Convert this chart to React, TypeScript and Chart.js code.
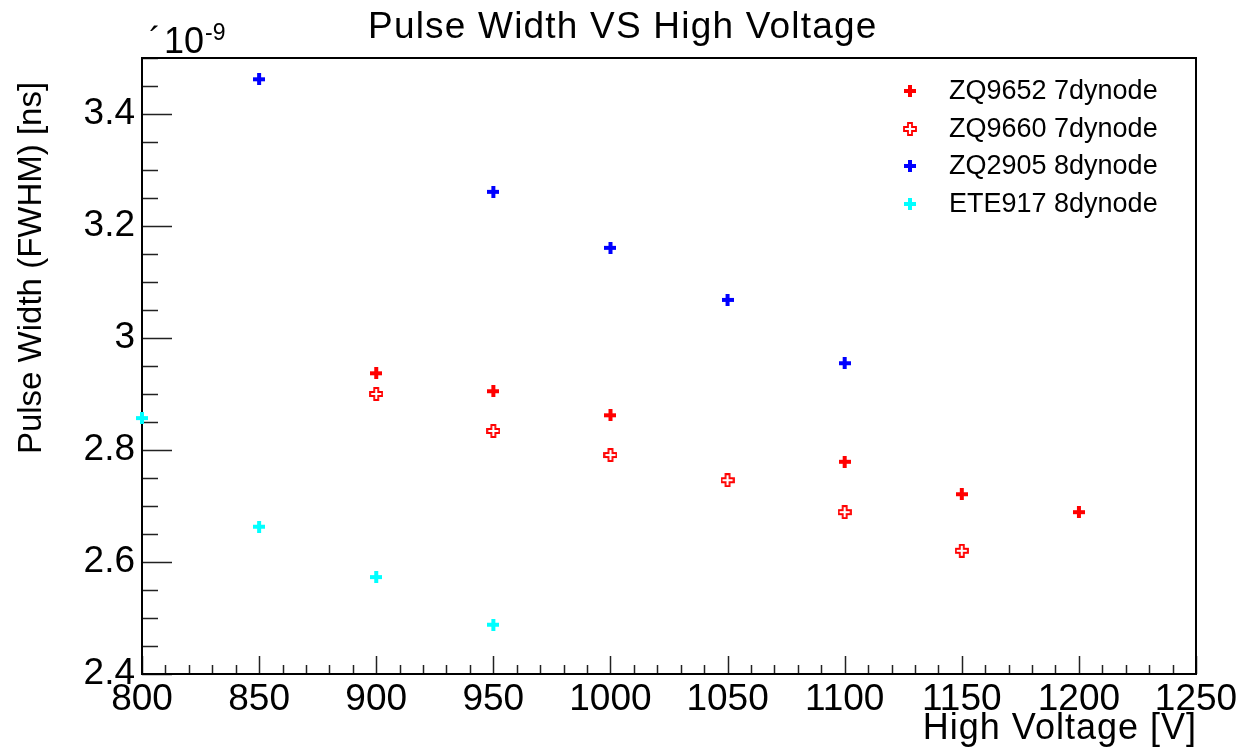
import React, { useEffect, useRef } from "react";
import { Chart, registerables } from "chart.js";

Chart.register(...registerables);

// ---- data ----
const seriesNames = ["ZQ9652 7dynode", "ZQ9660 7dynode", "ZQ2905 8dynode", "ETE917 8dynode"];
const seriesColors = ["#ff0000", "#ff0000", "#0000ff", "#00ffff"];
const seriesOpen = [false, true, false, false];

const zq9652X = [900, 950, 1000, 1100, 1150, 1200];
const zq9652Y = [2.937, 2.905, 2.862, 2.779, 2.721, 2.689];
const zq9660X = [900, 950, 1000, 1050, 1100, 1150];
const zq9660Y = [2.9, 2.834, 2.791, 2.746, 2.689, 2.62];
const zq2905X = [850, 950, 1000, 1050, 1100];
const zq2905Y = [3.462, 3.261, 3.161, 3.068, 2.955];
const ete917X = [800, 850, 900, 950];
const ete917Y = [2.857, 2.663, 2.573, 2.488];

const seriesX = [zq9652X, zq9660X, zq2905X, ete917X];
const seriesY = [zq9652Y, zq9660Y, zq2905Y, ete917Y];

const xTicks = [800, 850, 900, 950, 1000, 1050, 1100, 1150, 1200, 1250];
const yTicks = [2.4, 2.6, 2.8, 3.0, 3.2, 3.4];
const xMin = 800, xMax = 1250, yMin = 2.4, yMax = 3.5;

const titleText = "Pulse Width VS High Voltage";
const xTitle = "High Voltage [V]";
const yTitle = "Pulse Width (FWHM) [ns]";

const FONT = "'Liberation Sans', Arial, sans-serif";

function makeMarker(color: string, open: boolean): HTMLCanvasElement {
  const c = document.createElement("canvas");
  if (!open) {
    c.width = 12;
    c.height = 12;
    const g = c.getContext("2d")!;
    g.fillStyle = color;
    g.fillRect(0, 4, 12, 4);
    g.fillRect(4, 0, 4, 12);
  } else {
    c.width = 14;
    c.height = 14;
    const g = c.getContext("2d")!;
    const a = 1, b = 5, d = 9, e = 13;
    g.beginPath();
    g.moveTo(b, a); g.lineTo(d, a); g.lineTo(d, b); g.lineTo(e, b); g.lineTo(e, d);
    g.lineTo(d, d); g.lineTo(d, e); g.lineTo(b, e); g.lineTo(b, d); g.lineTo(a, d);
    g.lineTo(a, b); g.lineTo(b, b); g.closePath();
    g.fillStyle = "#ffffff";
    g.fill();
    g.strokeStyle = color;
    g.lineWidth = 1.8;
    g.stroke();
  }
  return c;
}

export default function App() {
  const ref = useRef<HTMLCanvasElement | null>(null);

  useEffect(() => {
    document.body.style.margin = "0";
    const canvas = ref.current!;
    const markers = seriesNames.map((_, i) => makeMarker(seriesColors[i], seriesOpen[i]));

    const framePlugin = {
      id: "rootFrame",
      beforeDatasetsDraw(chart: any) {
        const ctx = chart.ctx as CanvasRenderingContext2D;
        const xs = chart.scales.x;
        const ys = chart.scales.y;
        const { left, right, top, bottom } = chart.chartArea;
        ctx.save();
        ctx.strokeStyle = "#222";
        ctx.lineWidth = 1.5;
        ctx.beginPath();
        for (let i = 0; i <= 45; i++) {
          const v = xMin + i * 10;
          const px = Math.round(xs.getPixelForValue(v)) + 0.5;
          const len = i % 5 === 0 ? 18 : 9;
          ctx.moveTo(px, bottom);
          ctx.lineTo(px, bottom - len);
        }
        for (let i = 0; i <= 22; i++) {
          const v = yMin + i * 0.05;
          const py = Math.round(ys.getPixelForValue(v)) + 0.5;
          const len = i % 4 === 0 ? 30 : 16;
          ctx.moveTo(left, py);
          ctx.lineTo(left + len, py);
        }
        ctx.stroke();
        ctx.strokeStyle = "#000";
        ctx.lineWidth = 2;
        ctx.strokeRect(left, top, right - left, bottom - top);
        ctx.restore();
      },
      afterDraw(chart: any) {
        const ctx = chart.ctx as CanvasRenderingContext2D;
        const { left, right } = chart.chartArea;
        ctx.save();
        ctx.fillStyle = "#000";
        // title
        (ctx as any).letterSpacing = "1.2px";
        ctx.font = `37px ${FONT}`;
        ctx.textAlign = "left";
        ctx.textBaseline = "alphabetic";
        ctx.fillText(titleText, 368, 38);
        // x title
        (ctx as any).letterSpacing = "1px";
        ctx.font = `36px ${FONT}`;
        ctx.textAlign = "right";
        ctx.fillText(xTitle, right + 1, 739);
        (ctx as any).letterSpacing = "0px";
        // y title
        ctx.save();
        ctx.translate(41, 268);
        ctx.rotate(-Math.PI / 2);
        ctx.font = `33px ${FONT}`;
        ctx.textAlign = "center";
        ctx.fillText(yTitle, 0, 0);
        ctx.restore();
        // exponent
        ctx.textAlign = "left";
        ctx.font = `36px ${FONT}`;
        ctx.fillText("\u00B4", left + 7, 53);
        ctx.fillText("10", 164, 53);
        ctx.font = `23px ${FONT}`;
        ctx.fillText("-9", 205, 40);
        // legend
        ctx.font = `27px ${FONT}`;
        ctx.textBaseline = "middle";
        seriesNames.forEach((name, i) => {
          const y = 91 + i * 37.5;
          const m = markers[i];
          ctx.drawImage(m, Math.round(910 - m.width / 2), Math.round(y - m.height / 2));
          ctx.fillText(name, 949, y + 1);
        });
        ctx.restore();
      },
    };

    const chart = new Chart(canvas, {
      type: "scatter",
      data: {
        datasets: seriesNames.map((name, i) => ({
          label: name,
          data: seriesX[i].map((x, j) => ({ x, y: seriesY[i][j] })),
          pointStyle: markers[i] as any,
          pointRadius: 6,
          backgroundColor: seriesColors[i],
          borderColor: seriesColors[i],
          showLine: false,
          clip: false as any,
        })),
      },
      options: {
        animation: false,
        responsive: false,
        devicePixelRatio: 1,
        layout: { padding: { top: 58, right: 56, left: 0, bottom: 0 } },
        plugins: {
          legend: { display: false },
          title: { display: false },
          tooltip: { enabled: false },
        },
        scales: {
          x: {
            type: "linear",
            position: "bottom",
            min: xMin,
            max: xMax,
            afterBuildTicks: (s: any) => {
              s.ticks = xTicks.map((v) => ({ value: v }));
            },
            afterFit: (s: any) => {
              s.height = 78;
            },
            ticks: {
              autoSkip: false,
              maxRotation: 0,
              padding: 4,
              color: "#000",
              font: { family: FONT, size: 37 },
              callback: (v: any) => String(v),
            },
            grid: { display: false, drawTicks: false },
            border: { display: false },
          },
          y: {
            type: "linear",
            min: yMin,
            max: yMax,
            afterBuildTicks: (s: any) => {
              s.ticks = yTicks.map((v) => ({ value: v }));
            },
            afterFit: (s: any) => {
              s.width = 142;
            },
            ticks: {
              autoSkip: false,
              padding: 7,
              color: "#000",
              font: { family: FONT, size: 37 },
              callback: (v: any) => String(Math.round(Number(v) * 10) / 10),
            },
            grid: { display: false, drawTicks: false },
            border: { display: false },
          },
        },
      },
      plugins: [framePlugin],
    });

    return () => chart.destroy();
  }, []);

  return (
    <div style={{ width: 1252, height: 752 }}>
      <canvas ref={ref} width={1252} height={752} style={{ display: "block" }} />
    </div>
  );
}
